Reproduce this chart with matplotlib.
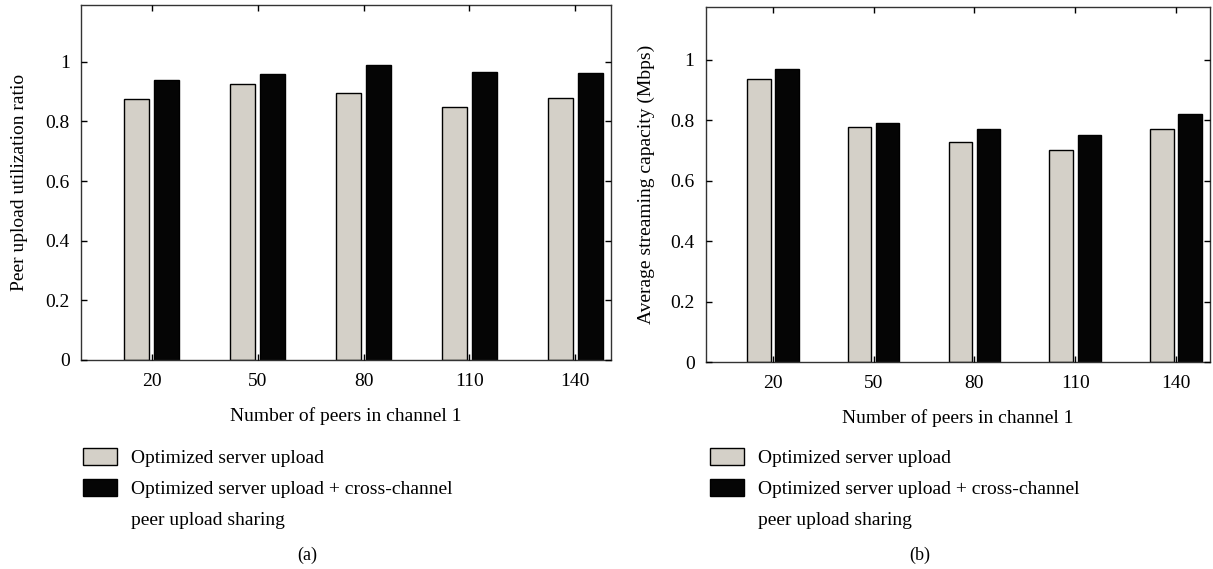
import matplotlib
matplotlib.use("Agg")
import matplotlib.pyplot as plt
import numpy as np
from matplotlib.patches import Patch

plt.rcParams['font.family'] = ['Liberation Serif', 'DejaVu Serif']
plt.rcParams['font.size'] = 14

# Data
peers = [20, 50, 80, 110, 140]
util_server = [0.876, 0.925, 0.896, 0.849, 0.879]
util_cross = [0.939, 0.958, 0.988, 0.965, 0.963]
cap_server = [0.937, 0.779, 0.727, 0.703, 0.771]
cap_cross = [0.969, 0.792, 0.772, 0.752, 0.822]
yticks = [0, 0.2, 0.4, 0.6, 0.8, 1]
ytick_labels = ['0', '0.2', '0.4', '0.6', '0.8', '1']
label_server = 'Optimized server upload'
label_cross = 'Optimized server upload + cross-channel'
label_cross2 = 'peer upload sharing'

gray = '#d4d0c8'
black = '#050505'
W, H = 1213, 569

fig = plt.figure(figsize=(W / 100, H / 100), dpi=100)
ax1 = fig.add_axes([81 / W, 1 - 360 / H, (610.7 - 81) / W, 355 / H])
ax2 = fig.add_axes([705.7 / W, 1 - 362.3 / H, (1209.5 - 705.7) / W, 355 / H])

x = np.array(peers)
w = 7
off = 4.2


def draw(ax, a, b, ylabel, ytop):
    ax.bar(x - off, a, w, color=gray, edgecolor='black', linewidth=1)
    ax.bar(x + off, b, w, color=black, edgecolor='black', linewidth=1)
    ax.set_xlim(0, 150)
    ax.set_ylim(0, ytop)
    ax.set_xticks(peers)
    ax.set_yticks(yticks)
    ax.set_yticklabels(ytick_labels)
    ax.tick_params(direction='in', top=True, right=True, length=4, width=1)
    ax.tick_params(axis='x', pad=9)
    ax.tick_params(axis='y', pad=8)
    for s in ax.spines.values():
        s.set_color('#333333')
        s.set_linewidth(1)
    ax.set_xlabel('Number of peers in channel 1')
    ax.xaxis.set_label_coords(0.5, -0.133)
    ax.set_ylabel(ylabel)
    ax.yaxis.set_label_coords(-0.1, 0.5)
    ax.set_axisbelow(False)


draw(ax1, util_server, util_cross, 'Peer upload utilization ratio', 1.19)
draw(ax2, cap_server, cap_cross, 'Average streaming capacity (Mbps)', 1.174)

handles = [Patch(facecolor=gray, edgecolor='black', linewidth=1),
           Patch(facecolor=black, edgecolor='black', linewidth=1),
           Patch(facecolor='none', edgecolor='none')]
labels = [label_server, label_cross, label_cross2]
for xl in (83, 710):
    fig.legend(handles, labels, loc='upper left',
               bbox_to_anchor=(xl / W, 1 - 448 / H), frameon=False,
               borderpad=0, borderaxespad=0, handlelength=1.75,
               handleheight=1.0, handletextpad=0.7, labelspacing=0.6)

fig.text(307 / W, 1 - 555 / H, '(a)', ha='center', va='center', fontsize=13)
fig.text(920 / W, 1 - 555 / H, '(b)', ha='center', va='center', fontsize=13)

fig.savefig('out.png', dpi=100)
